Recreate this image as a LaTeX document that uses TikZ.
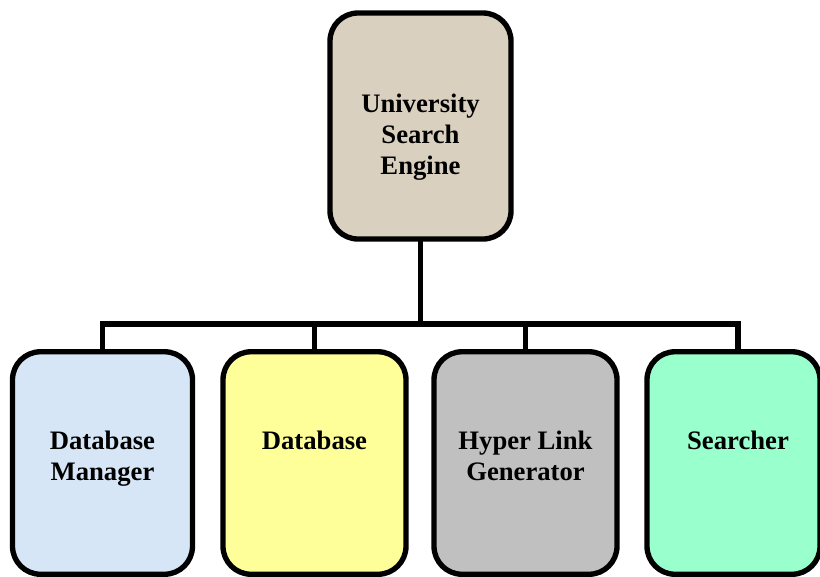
\documentclass[tikz,border=0pt]{standalone}
\usepackage{fontspec}
\setmainfont{Liberation Serif}
\usetikzlibrary{calc}
\definecolor{linen}{HTML}{D9D0BF}
\definecolor{paleblue}{HTML}{D6E6F6}
\definecolor{paleyellow}{HTML}{FFFF99}
\definecolor{midgray}{HTML}{C0C0C0}
\definecolor{mint}{HTML}{99FFCC}
\begin{document}
\begin{tikzpicture}[x=0.75pt,y=-0.75pt,
  box/.style={draw=black, line width=4pt, rounded corners=21pt, inner sep=0pt,
    minimum width=#1*0.75pt},
  lbl/.style={font=\bfseries\fontsize{20}{23}\selectfont, align=center, inner sep=0pt, anchor=north},
  link/.style={line width=4pt, line cap=rect}]
\useasboundingbox (0,0) rectangle (820,576);
\node[box=181, minimum height=226*0.75pt, fill=linen] (top) at (420.5,126) {};
\node[box=180, minimum height=222.5*0.75pt, fill=paleblue] (b1) at (102.5,463) {};
\node[box=183, minimum height=222.5*0.75pt, fill=paleyellow] (b2) at (314.5,463) {};
\node[box=183, minimum height=222.5*0.75pt, fill=midgray] (b3) at (525.5,463) {};
\node[box=173, minimum height=222.5*0.75pt, fill=mint] (b4) at (733.5,463) {};
\coordinate (s4) at ($(b4.north)+(4.5,0)$);
\node[lbl] (t0) at (420.5,94) {University\\Search\\Engine};
\node[lbl] (t1) at ($(b1.north)+(0,82)$) {Database\\Manager};
\node[lbl] (t2) at ($(b2.north)+(0,82)$) {Database};
\node[lbl] (t3) at ($(b3.north)+(0,82)$) {Hyper Link\\Generator};
\node[lbl] (t4) at ($(s4)+(0,82)$) {Searcher};
\coordinate (hub) at (420.5,324);
\draw[link] (top.south) -- (hub);
\draw[link,line cap=butt] (b1.north) |- (hub);
\draw[link,line cap=butt] (b2.north) |- (hub);
\draw[link,line cap=butt] (b3.north) |- (hub);
\draw[link,line cap=butt] (s4) |- (hub);
\end{tikzpicture}
\end{document}
